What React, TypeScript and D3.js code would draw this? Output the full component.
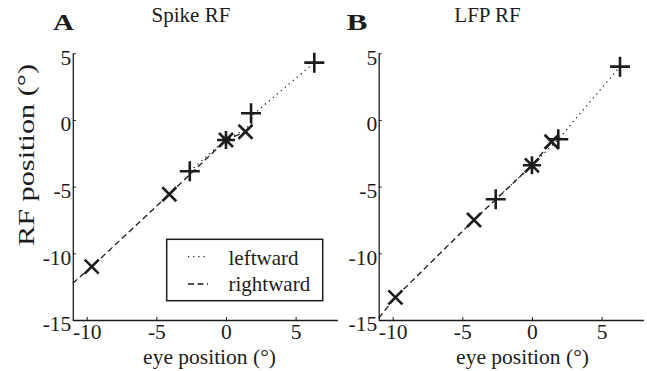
import React, { useEffect, useRef } from "react";
import * as d3 from "d3";

type Pt = [number, number];

// tick values shared by both panels
const xTicks = [-10, -5, 0, 5];
const yTicks = [5, 0, -5, -10, -15];

// Panel A: spike RF
const spikePlus: Pt[] = [[-2.6, -3.85], [1.8, 0.5], [6.34, 4.3]];
const spikeCross: Pt[] = [[-9.64, -11.0], [-4.07, -5.57], [1.4, -0.88]];
const spikeStar: Pt[] = [[0, -1.5]];
const spikeLeftward: Pt[] = [[-2.6, -3.85], [0, -1.45], [0.9, -1.0], [1.84, -0.3], [1.84, 0.3], [2.44, 0.85], [6.34, 4.3]];
const spikeRightward: Pt[] = [[-11, -12.25], [-9.64, -11.0], [-4.07, -5.57], [0, -1.5], [1.4, -0.88]];

// Panel B: LFP RF
const lfpPlus: Pt[] = [[-2.6, -5.95], [1.89, -1.45], [6.32, 4.0]];
const lfpCross: Pt[] = [[-9.8, -13.3], [-4.16, -7.5], [1.41, -1.63]];
const lfpStar: Pt[] = [[0, -3.4]];
const lfpLeftward: Pt[] = [[-2.6, -5.95], [0, -3.4], [1.89, -1.45], [6.32, 4.0]];
const lfpRightward: Pt[] = [[-11, -14.85], [-9.8, -13.3], [-4.16, -7.5], [0, -3.4], [1.41, -1.63]];

const legendLabels = ["leftward", "rightward"];

const panels = [
  {
    letter: "A", title: "Spike RF", x0: 72.8, x1: 337.4, letterX: 53, titleX: 191, xLabelX: 209.5, yLabel: true,
    plus: spikePlus, cross: spikeCross, star: spikeStar, left: spikeLeftward, right: spikeRightward, legend: true,
  },
  {
    letter: "B", title: "LFP RF", x0: 378.7, x1: 643.4, letterX: 346.5, titleX: 487.5, xLabelX: 522.5, yLabel: false,
    plus: lfpPlus, cross: lfpCross, star: lfpStar, left: lfpLeftward, right: lfpRightward, legend: false,
  },
];

const FONT = "'Liberation Serif', 'Times New Roman', serif";
const INK = "#1c1c1c";

export default function App() {
  const svgRef = useRef<SVGSVGElement>(null);

  useEffect(() => {
    const svg = d3.select(svgRef.current);
    svg.selectAll("*").remove();

    const y = d3.scaleLinear().domain([-15, 5]).range([320, 53.3]);

    panels.forEach((p) => {
      const x = d3.scaleLinear().domain([-11, 8]).range([p.x0, p.x1]);
      const g = svg.append("g");

      // axes (ticks point inward)
      const gx = g.append("g")
        .attr("transform", `translate(0,${y(-15)})`)
        .call(d3.axisBottom(x).tickValues(xTicks).tickSizeInner(-3).tickSizeOuter(0).tickPadding(3.5).tickFormat(d3.format("d")));
      const gy = g.append("g")
        .attr("transform", `translate(${x(-11)},0)`)
        .call(d3.axisLeft(y).tickValues(yTicks).tickSizeInner(-3).tickSizeOuter(0).tickPadding(1.5).tickFormat(d3.format("d")));

      [gx, gy].forEach((a) => {
        a.attr("font-family", FONT);
        a.select(".domain").attr("stroke", INK).attr("stroke-width", 1.3);
        a.selectAll(".tick line").attr("stroke", INK).attr("stroke-width", 1);
        a.selectAll(".tick text")
          .attr("font-family", FONT).attr("font-size", 21.5).attr("fill", INK)
          .text((d: any) => (d < 0 ? "-" + Math.abs(d) : String(d)));
      });
      gy.selectAll(".tick text").attr("dy", "0.5em");

      // lines
      const line = d3.line<Pt>().x((d) => x(d[0])).y((d) => y(d[1]));
      g.append("path").attr("d", line(p.left)).attr("fill", "none")
        .attr("stroke", INK).attr("stroke-width", 1.3).attr("stroke-dasharray", "1.2,4");
      g.append("path").attr("d", line(p.right)).attr("fill", "none")
        .attr("stroke", INK).attr("stroke-width", 1.3).attr("stroke-dasharray", "6,3.5");

      // markers
      const plusPath = (d: Pt, r: number) => {
        const cx = x(d[0]), cy = y(d[1]);
        return `M${cx - r},${cy}H${cx + r}M${cx},${cy - r}V${cy + r}`;
      };
      const crossPath = (d: Pt, r: number) => {
        const cx = x(d[0]), cy = y(d[1]);
        return `M${cx - r},${cy - r}L${cx + r},${cy + r}M${cx - r},${cy + r}L${cx + r},${cy - r}`;
      };
      const marks = g.append("g").attr("stroke", INK).attr("stroke-width", 2.6).attr("fill", "none");
      marks.selectAll("path.plus").data(p.plus).join("path").attr("class", "plus").attr("d", (d) => plusPath(d, 10));
      marks.selectAll("path.cross").data(p.cross).join("path").attr("class", "cross").attr("d", (d) => crossPath(d, 7));
      marks.selectAll("path.star").data(p.star).join("path").attr("class", "star")
        .attr("d", (d) => plusPath(d, 9) + crossPath(d, 7));

      // texts
      g.append("text").attr("x", p.letterX).attr("y", 30).attr("font-family", FONT)
        .attr("font-weight", "bold").attr("font-size", 23).attr("fill", INK)
        .attr("textLength", 21).attr("lengthAdjust", "spacingAndGlyphs").text(p.letter);
      g.append("text").attr("x", p.titleX).attr("y", 21.7).attr("text-anchor", "middle")
        .attr("font-family", FONT).attr("font-size", 21).attr("fill", INK).text(p.title);
      g.append("text").attr("x", p.xLabelX).attr("y", 364).attr("text-anchor", "middle")
        .attr("font-family", FONT).attr("font-size", 21.5).attr("fill", INK).text("eye position (°)");
      if (p.yLabel) {
        g.append("text").attr("transform", `translate(34,155) rotate(-90)`).attr("text-anchor", "middle")
          .attr("font-family", FONT).attr("font-size", 23).attr("fill", INK)
          .attr("textLength", 182).attr("lengthAdjust", "spacingAndGlyphs").text("RF position (°)");
      }

      if (p.legend) {
        const lg = g.append("g");
        lg.append("rect").attr("x", 166.7).attr("y", 239.3).attr("width", 156).attr("height", 61.4)
          .attr("fill", "white").attr("stroke", INK).attr("stroke-width", 1.5);
        const rows = [
          { label: legendLabels[0], dash: "1.2,4", y: 256.7, ty: 265 },
          { label: legendLabels[1], dash: "6,3.5", y: 284, ty: 291 },
        ];
        rows.forEach((r) => {
          lg.append("line").attr("x1", 188).attr("x2", 208).attr("y1", r.y).attr("y2", r.y)
            .attr("stroke", INK).attr("stroke-width", 1.3).attr("stroke-dasharray", r.dash);
          lg.append("text").attr("x", 228.5).attr("y", r.ty).attr("font-family", FONT)
            .attr("font-size", 21).attr("fill", INK).text(r.label);
        });
      }
    });
  }, []);

  return (
    <svg ref={svgRef} width={647} height={371} viewBox="0 0 647 371"
      style={{ position: "absolute", left: 0, top: 0, background: "white" }} />
  );
}
